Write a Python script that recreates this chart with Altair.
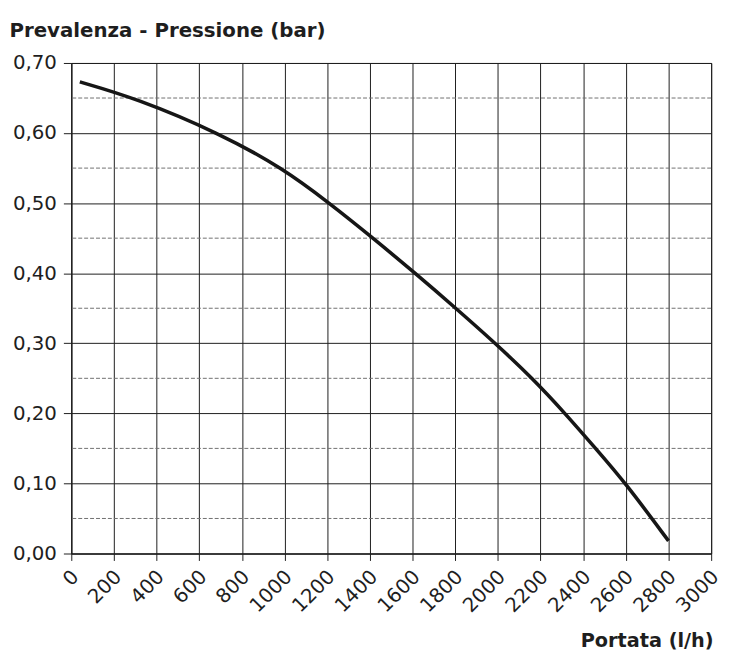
import altair as alt
import pandas as pd

# Curve
portata = [40, 300, 693, 990, 1210, 1415, 1612, 1803, 1988, 2162, 2315, 2458, 2600, 2800]
prevalenza = [0.673, 0.650, 0.600, 0.550, 0.500, 0.450, 0.400, 0.350, 0.300, 0.250, 0.200, 0.150, 0.100, 0.018]

x_ticks = list(range(0, 3001, 200))
y_ticks = [0.0, 0.1, 0.2, 0.3, 0.4, 0.5, 0.6, 0.7]
y_minor = [0.05, 0.15, 0.25, 0.35, 0.45, 0.55, 0.65]

curve = pd.DataFrame({"q": portata, "h": prevalenza})
minor = pd.DataFrame({"h": y_minor})

FONT = "DejaVu Sans"
INK = "#1e1e1e"

x_scale = alt.Scale(domain=[0, 3000], nice=False, zero=True)
y_scale = alt.Scale(domain=[0, 0.7], nice=False, zero=True)

x_axis = alt.Axis(
    values=x_ticks, format="d", labelAngle=-45, labelAlign="right", labelBaseline="middle",
    labelPadding=13, labelOffset=4, tickSize=7, labelFont=FONT, labelFontSize=20,
    labelColor=INK, grid=True, gridColor=INK, gridWidth=1, gridOpacity=1,
    domainColor=INK, tickColor=INK, labelOverlap=False, labelFlush=False,
    title="Portata (l/h)", titleFont=FONT, titleFontSize=19.5, titleFontWeight="bold",
    titleColor=INK, titleAlign="right", titleBaseline="alphabetic", titleAnchor="end",
    titleX=649, titleY=94,
)
y_axis = alt.Axis(
    values=y_ticks, labelExpr="replace(format(datum.value, '.2f'), '.', ',')",
    tickSize=8, labelPadding=7, labelFont=FONT, labelFontSize=20, labelColor=INK,
    grid=True, gridColor=INK, gridWidth=1, gridOpacity=1, domainColor=INK, tickColor=INK,
    labelOverlap=False, labelFlush=False,
    title="Prevalenza - Pressione (bar)", titleFont=FONT, titleFontSize=20,
    titleFontWeight="bold", titleColor=INK, titleAngle=0, titleAlign="left",
    titleBaseline="alphabetic", titleAnchor="start", titleX=-63, titleY=-27,
)

dashed = alt.Chart(minor).mark_rule(color="#707070", strokeWidth=1, strokeDash=[4, 2]).encode(
    y=alt.Y("h:Q", scale=y_scale, axis=y_axis)
)

line = alt.Chart(curve).mark_line(color="#161616", strokeWidth=3.6, interpolate="basis", strokeCap="butt").encode(
    x=alt.X("q:Q", scale=x_scale, axis=x_axis),
    y=alt.Y("h:Q", scale=y_scale, axis=y_axis),
)

chart = alt.layer(dashed, line).properties(
    width=647, height=496,
    autosize=alt.AutoSizeParams(type="none"),
    padding={"left": 64, "top": 52, "right": 15, "bottom": 97},
).configure_view(stroke=INK, strokeWidth=1)

chart.save("out.html", embed_options={"renderer": "svg", "actions": False})
